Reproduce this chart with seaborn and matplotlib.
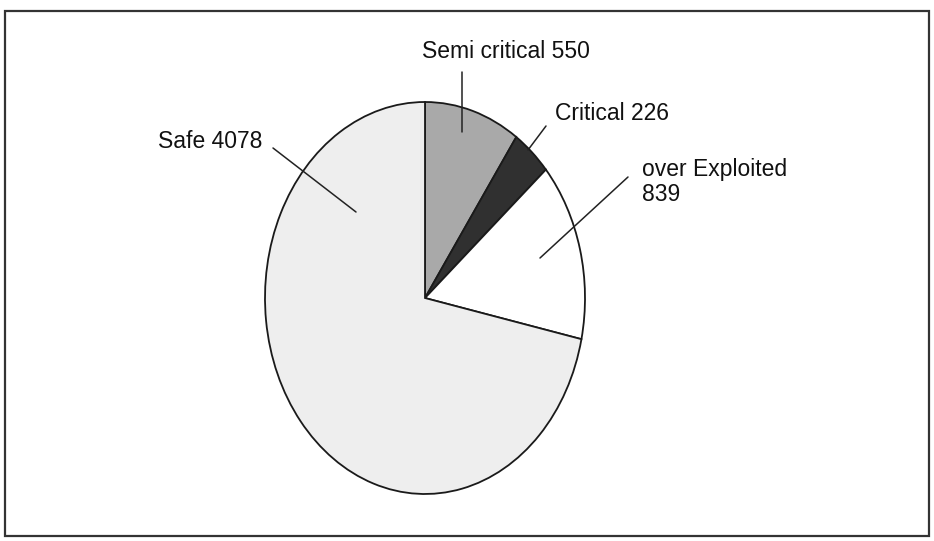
import matplotlib
matplotlib.use("Agg")
import matplotlib.pyplot as plt
from matplotlib.patches import Rectangle
import seaborn as sns

# ---- data ----
categories = ["Semi critical", "Critical", "over Exploited", "Safe"]
values = [550, 226, 839, 4078]
labels = ["Semi critical 550", "Critical 226", "over Exploited\n839", "Safe 4078"]
colors = ["#a9a9a9", "#303030", "#ffffff", "#eeeeee"]

sns.set_theme(style="white")
plt.rcParams["font.family"] = ["Liberation Sans", "DejaVu Sans"]

W, H = 934, 541
fig = plt.figure(figsize=(W / 100, H / 100), dpi=100)
fig.patch.set_facecolor("white")

# pie ellipse bounds in pixels
cx, cy, rx, ry = 425, 298, 160, 196
ax = fig.add_axes([(cx - rx) / W, (H - (cy + ry)) / H, 2 * rx / W, 2 * ry / H])
ax.pie(values, colors=colors, startangle=90, counterclock=False,
       radius=1.0, wedgeprops=dict(edgecolor="#1a1a1a", linewidth=1.3))
ax.set_aspect("auto")
ax.set_xlim(-1, 1)
ax.set_ylim(-1, 1)
ax.axis("off")


def to_data(px, py):
    return (px - cx) / rx, (cy - py) / ry


# leader lines (outer pixel point -> inner pixel point) and label anchors
leaders = [((462, 72), (462, 132)),
           ((546, 126), (528, 150)),
           ((628, 177), (540, 258)),
           ((273, 148), (356, 212))]
text_pos = [(506, 52, "center"), (555, 114, "left"), (642, 182, "left"), (262, 142, "right")]

for lab, (p0, p1), (tx, ty, ha) in zip(labels, leaders, text_pos):
    x0, y0 = to_data(*p0)
    x1, y1 = to_data(*p1)
    ax.plot([x0, x1], [y0, y1], color="#222222", lw=1.1, clip_on=False)
    fig.text(tx / W, 1 - ty / H, lab, ha=ha, va="center", fontsize=16.5,
             color="#111111", linespacing=1.1)

# outer frame
fig.patches.append(Rectangle((5 / W, 1 - 536 / H), (929 - 5) / W, (536 - 11) / H,
                             transform=fig.transFigure, fill=False,
                             edgecolor="#333333", linewidth=1.6))

fig.savefig("out.png", dpi=100, facecolor="white")
